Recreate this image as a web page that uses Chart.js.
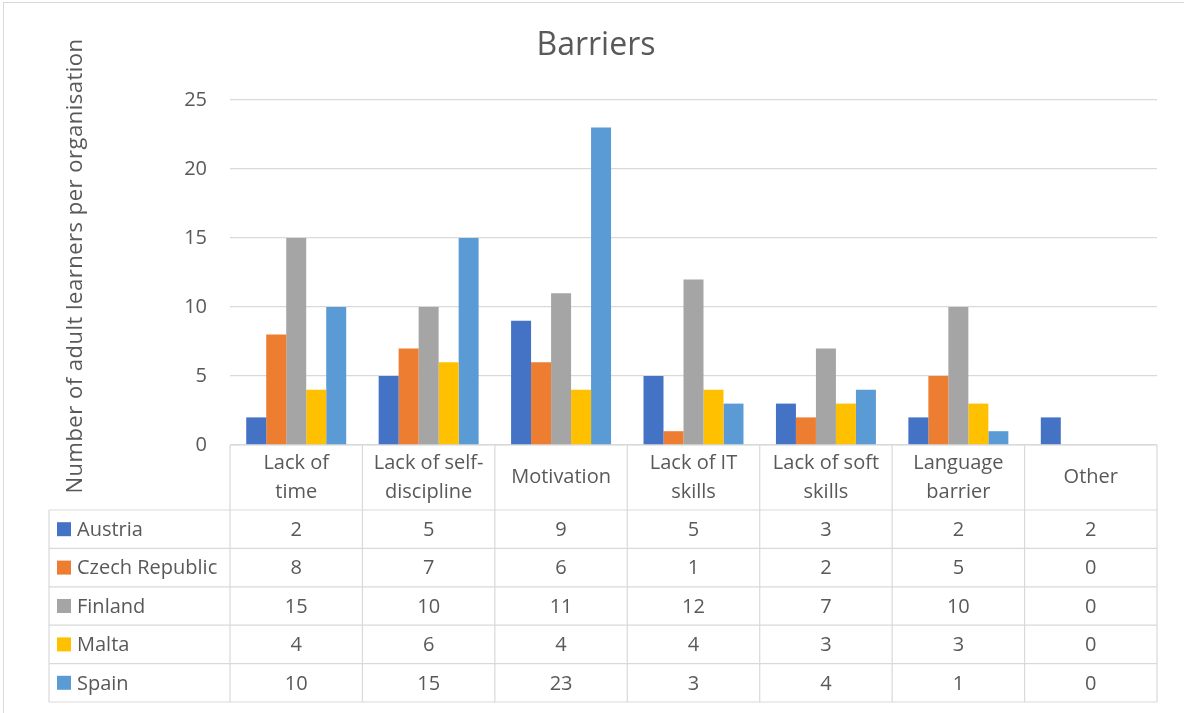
<!DOCTYPE html>
<html>
<head>
<meta charset="utf-8">
<script src="https://cdn.jsdelivr.net/npm/chart.js@4.4.1/dist/chart.umd.min.js"></script>
<style>
    html, body { margin: 0; padding: 0; background: #fff; }
    #wrap { position: relative; width: 1184px; height: 713px; overflow: hidden; }
    #frame { position: absolute; left: 3px; top: 2px; width: 1300px; height: 800px;
             border: 1px solid #d9d9d9; pointer-events: none; }
</style>
</head>
<body>
<div id="wrap">
    <canvas id="barriersChart" width="1184" height="713"></canvas>
    <div id="frame"></div>
</div>
<script>
// ── Data ───────────────────────────────────────────────────
const categories  = [['Lack of', 'time'], ['Lack of self-', 'discipline'], 'Motivation',
                     ['Lack of IT', 'skills'], ['Lack of soft', 'skills'], ['Language', 'barrier'], 'Other'];
const seriesNames = ['Austria', 'Czech Republic', 'Finland', 'Malta', 'Spain'];
const austria     = [2, 5, 9, 5, 3, 2, 2];
const czech       = [8, 7, 6, 1, 2, 5, 0];
const finland     = [15, 10, 11, 12, 7, 10, 0];
const malta       = [4, 6, 4, 4, 3, 3, 0];
const spain       = [10, 15, 23, 3, 4, 1, 0];
const seriesColors = ['#4472C4', '#ED7D31', '#A5A5A5', '#FFC000', '#5B9BD5'];
const yTicks      = [0, 5, 10, 15, 20, 25];
const chartTitle  = 'Barriers';
const yTitle      = 'Number of adult learners per organisation';

const TEXT = '#595959';
const LINE = '#d9d9d9';
const FONT = '"Open Sans", sans-serif';
const HEADER_H = 65;
const ROW_H = 38.4;
const TABLE_LEFT = 49;

// ── Titles + data table under the plot ─────────────────────
const dataTablePlugin = {
    id: 'dataTable',
    afterDraw(chart) {
        const { ctx, chartArea: area, scales: { x } } = chart;
        const sets = chart.data.datasets;
        const colW = (area.right - area.left) / chart.data.labels.length;
        const top = area.bottom;
        const headBottom = top + HEADER_H;
        const bottom = headBottom + sets.length * ROW_H;

        ctx.save();
        ctx.fillStyle = TEXT;
        ctx.textAlign = 'center';
        ctx.textBaseline = 'middle';

        // chart title
        ctx.font = `32px ${FONT}`;
        ctx.fillText(chartTitle, 596, 46);

        // y axis title, rotated
        ctx.save();
        ctx.translate(76, 266);
        ctx.rotate(-Math.PI / 2);
        ctx.font = `22px ${FONT}`;
        ctx.letterSpacing = '0.5px';
        ctx.fillText(yTitle, 0, 0);
        ctx.restore();

        ctx.strokeStyle = LINE;
        ctx.lineWidth = 1.2;
        ctx.beginPath();
        // horizontal lines
        ctx.moveTo(area.left, top); ctx.lineTo(area.right, top);
        for (let r = 0; r <= sets.length; r++) {
            const y = headBottom + r * ROW_H;
            ctx.moveTo(TABLE_LEFT, y); ctx.lineTo(area.right, y);
        }
        // vertical lines
        ctx.moveTo(TABLE_LEFT, headBottom); ctx.lineTo(TABLE_LEFT, bottom);
        chart.data.labels.forEach((_, i) => {
            const xl = x.getPixelForValue(i) - colW / 2;
            ctx.moveTo(xl, top); ctx.lineTo(xl, bottom);
        });
        ctx.moveTo(area.right, top); ctx.lineTo(area.right, bottom);
        ctx.stroke();

        ctx.font = `20px ${FONT}`;

        // header: category names
        const headMid = (top + headBottom) / 2;
        chart.data.labels.forEach((lab, i) => {
            const lines = Array.isArray(lab) ? lab : [lab];
            const cx = x.getPixelForValue(i);
            lines.forEach((ln, k) => {
                ctx.fillText(ln, cx, headMid + (k - (lines.length - 1) / 2) * 29);
            });
        });

        // rows: legend key + values
        sets.forEach((ds, r) => {
            const cy = headBottom + r * ROW_H + ROW_H / 2;
            ctx.fillStyle = ds.backgroundColor;
            ctx.fillRect(57, cy - 7, 14, 14);
            ctx.fillStyle = TEXT;
            ctx.textAlign = 'left';
            ctx.fillText(ds.label, 77, cy + 1);
            ctx.textAlign = 'center';
            ds.data.forEach((v, i) => {
                ctx.fillText(String(v), x.getPixelForValue(i), cy + 1);
            });
        });
        ctx.restore();
    }
};

// ── Chart ──────────────────────────────────────────────────
const seriesValues = [austria, czech, finland, malta, spain];

new Chart(document.getElementById('barriersChart'), {
    type: 'bar',
    data: {
        labels: categories,
        datasets: seriesNames.map((name, i) => ({
            label: name,
            data: seriesValues[i],
            backgroundColor: seriesColors[i],
            borderWidth: 0,
            categoryPercentage: 0.755,
            barPercentage: 1
        }))
    },
    options: {
        responsive: false,
        animation: false,
        layout: { padding: { left: 50, right: 27, top: 100, bottom: 268 } },
        plugins: {
            legend: { display: false },
            tooltip: { enabled: false },
            title: { display: false }
        },
        scales: {
            x: { display: false },
            y: {
                min: 0, max: 25,
                afterFit: s => { s.width = 180; },
                afterBuildTicks: s => { s.ticks = yTicks.map(v => ({ value: v })); },
                border: { display: false },
                grid: { color: LINE, lineWidth: 1.2, drawTicks: false },
                ticks: { color: TEXT, font: { family: FONT, size: 20 }, padding: 23 }
            }
        }
    },
    plugins: [dataTablePlugin]
});
</script>
</body>
</html>
